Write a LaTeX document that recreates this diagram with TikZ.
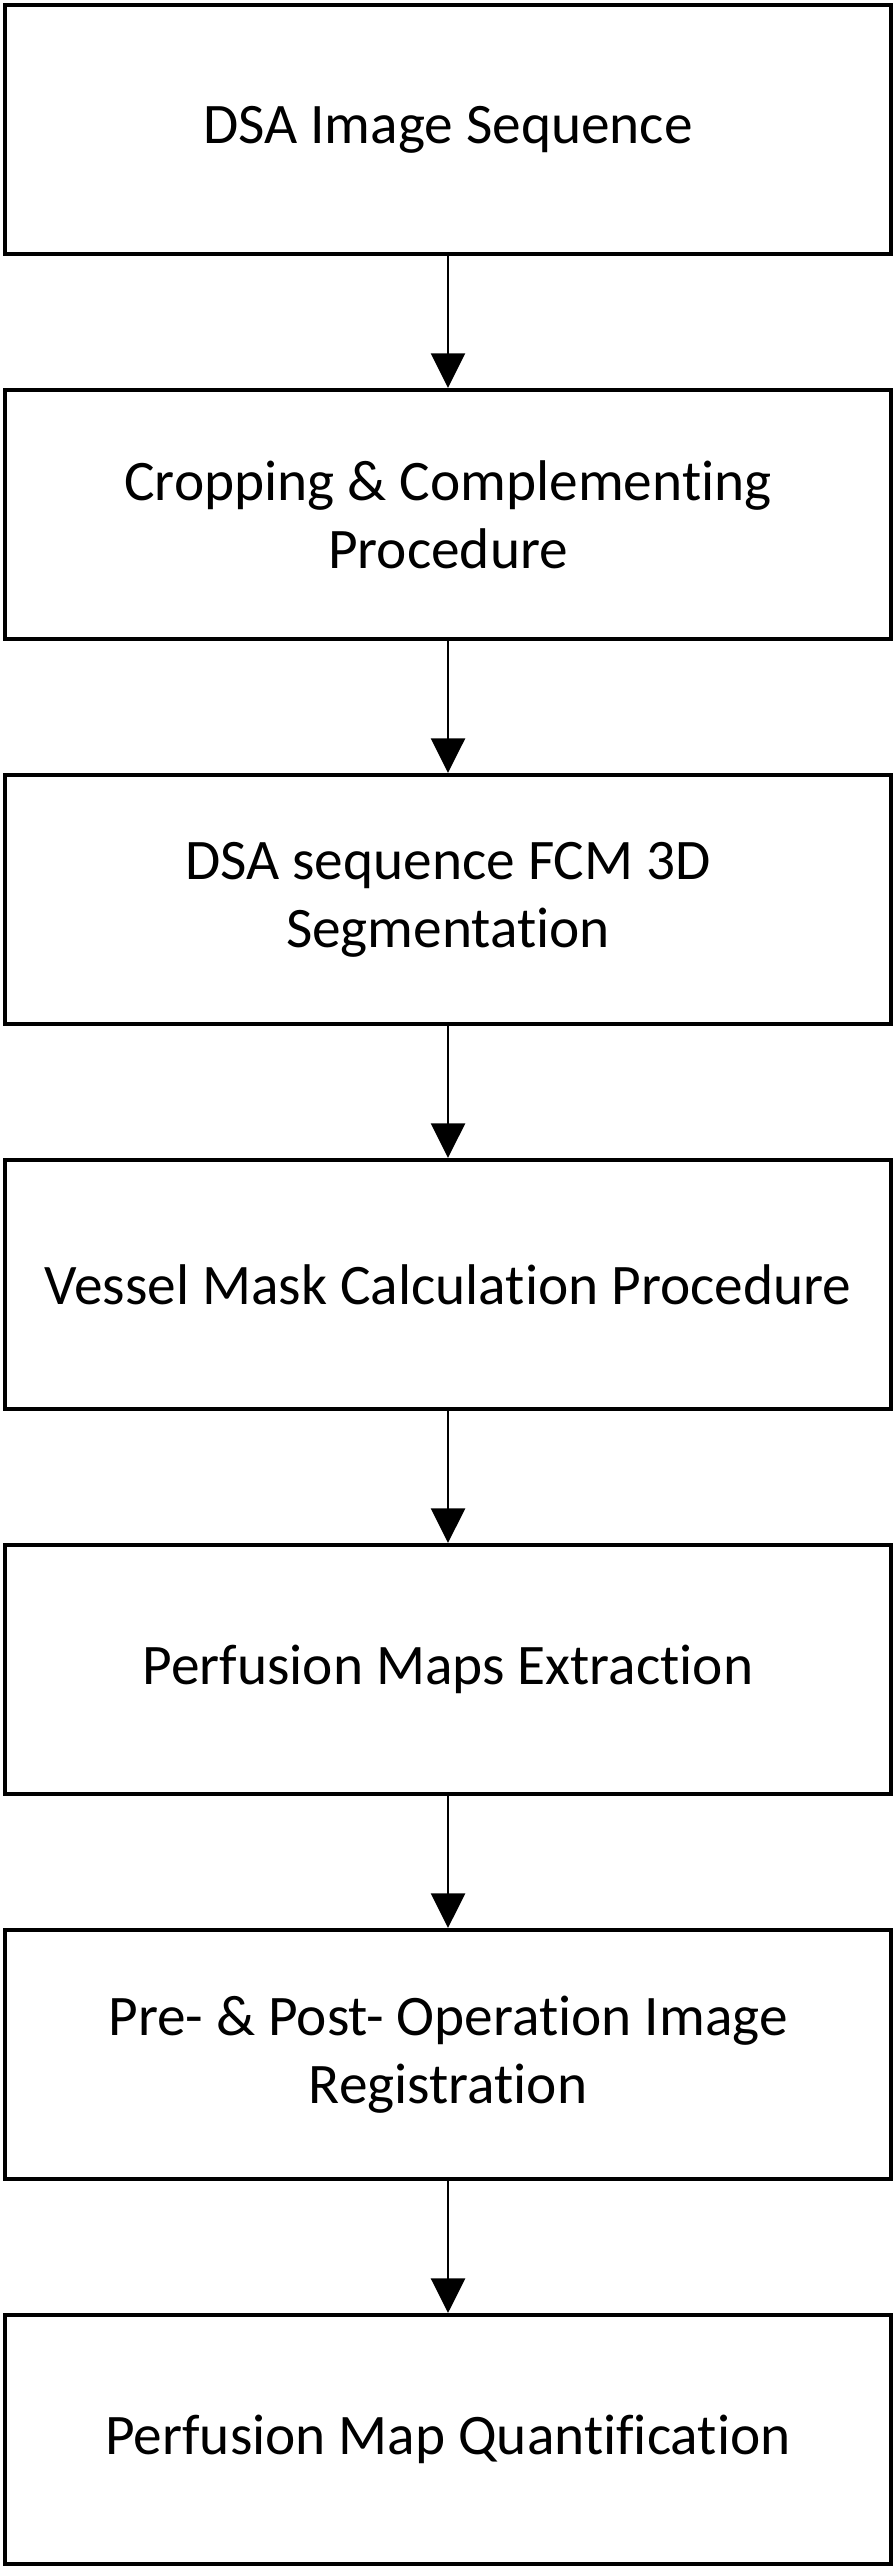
\documentclass[tikz,border=0pt]{standalone}
\usepackage{fontspec}
\setmainfont{Carlito}[Ligatures={NoCommon}]
\usepackage{tikz}
\usetikzlibrary{arrows.meta}

\begin{document}
\begin{tikzpicture}[x=0.75pt,y=0.75pt,yscale=-1,xscale=1,
  stepbox/.style={draw=black,line width=3pt,minimum width=664.5pt,minimum height=186.75pt,inner sep=0pt,align=center,font=\fontsize{43}{51}\selectfont},
  flowarrow/.style={line width=1.9pt,-{Triangle[width=25.5pt,length=26pt]}}]
%set diagram left start at 0, width 895 and height 2568
\useasboundingbox (0,0) rectangle (895,2568);

% Step Boxes
\node [stepbox] (dsaseq) at (448,129.5) {DSA Image Sequence};
\node [stepbox] (cropping) at (448,514.5) {Cropping \& Complementing\\Procedure};
\node [stepbox] (fcmseg) at (448,899.5) {DSA sequence FCM 3D\\Segmentation};
\node [stepbox] (vesselmask) at (448,1284.5) {Vessel Mask Calculation Procedure};
\node [stepbox] (mapsextr) at (448,1669.5) {Perfusion Maps Extraction};
\node [stepbox] (registr) at (448,2054.5) {Pre- \& Post- Operation Image\\Registration};
\node [stepbox] (quantif) at (448,2439.5) {Perfusion Map Quantification};

% Arrows
\draw [flowarrow] (dsaseq) -- (cropping);
\draw [flowarrow] (cropping) -- (fcmseg);
\draw [flowarrow] (fcmseg) -- (vesselmask);
\draw [flowarrow] (vesselmask) -- (mapsextr);
\draw [flowarrow] (mapsextr) -- (registr);
\draw [flowarrow] (registr) -- (quantif);

\end{tikzpicture}
\end{document}
